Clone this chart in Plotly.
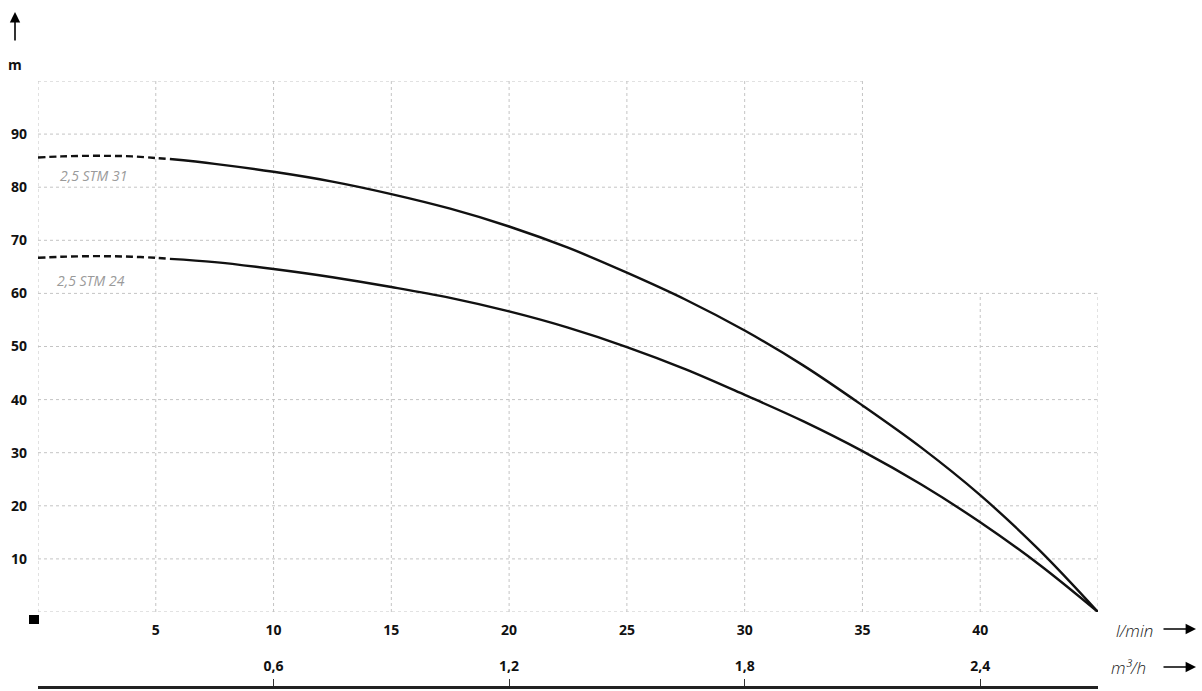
import plotly.graph_objects as go

# ---------------- data ----------------
x_dash = [0, 1, 2, 3, 4, 5, 5.6]
stm31_dash = [85.6, 85.8, 85.9, 85.9, 85.8, 85.5, 85.3]
stm24_dash = [66.7, 66.9, 67.0, 67.0, 66.9, 66.7, 66.5]

x_solid = [5.6, 7.5, 10, 12.5, 15, 17.5, 20, 22.5, 25, 27.5, 30, 32.5, 35, 37.5, 40, 42.5, 45]
stm31 = [85.3, 84.4, 82.9, 81.05, 78.7, 75.95, 72.6, 68.6, 63.9, 58.8, 53.0, 46.4, 38.9, 30.95, 22.0, 11.7, 0]
stm24 = [66.5, 65.9, 64.6, 63.05, 61.2, 59.15, 56.6, 53.55, 49.9, 45.7, 40.9, 35.9, 30.3, 24.0, 16.9, 8.95, 0]

series_names = ["2,5 STM 31", "2,5 STM 24"]

lmin_ticks = [5, 10, 15, 20, 25, 30, 35, 40]
lmin_labels = ["5", "10", "15", "20", "25", "30", "35", "40"]
m3h_ticks = [0.6, 1.2, 1.8, 2.4]
m3h_labels = ["0,6", "1,2", "1,8", "2,4"]
head_ticks = [10, 20, 30, 40, 50, 60, 70, 80, 90]
head_labels = ["10", "20", "30", "40", "50", "60", "70", "80", "90"]

X_MAX = 45
Y_MAX = 100
LMIN_TO_M3H = 0.06

# ---------------- figure ----------------
W, H = 1202, 691
ML, MR, MT, MB = 38, 104, 81, 4
PW = W - ML - MR
PH = H - MT - MB
y_plot_bottom_px = 612
y_dom0 = (H - MB - y_plot_bottom_px) / PH


def px_x(px):
    return (px - ML) / PW


def px_y(py):
    return (H - MB - py) / PH


FONT = "Open Sans"
fig = go.Figure()

line_style = dict(color="#111111", width=2.4)
for ys_d, ys_s, nm in [(stm31_dash, stm31, series_names[0]), (stm24_dash, stm24, series_names[1])]:
    fig.add_trace(go.Scatter(x=x_dash, y=ys_d, mode="lines", line=dict(**line_style, dash="7px,4px"),
                             line_shape="spline", showlegend=False, hoverinfo="skip", name=nm))
    fig.add_trace(go.Scatter(x=x_solid, y=ys_s, mode="lines", line=line_style,
                             line_shape="spline", showlegend=False, hoverinfo="skip", name=nm))

# dummy trace for the m3/h axis
fig.add_trace(go.Scatter(x=m3h_ticks, y=[None] * len(m3h_ticks), xaxis="x2", yaxis="y",
                         showlegend=False, hoverinfo="skip", mode="markers"))

# ---------------- L-shaped dotted grid ----------------
grid = dict(color="#c4c4c4", width=1, dash="3px,3px")
shapes = []
for yv in range(0, Y_MAX + 1, 10):
    x_end = 35 if yv > 60 else X_MAX
    shapes.append(dict(type="line", xref="x", yref="y", x0=0, x1=x_end, y0=yv, y1=yv, line=grid, layer="below"))
for xv in range(0, X_MAX + 1, 5):
    y_end = Y_MAX if xv <= 35 else 60
    shapes.append(dict(type="line", xref="x", yref="y", x0=xv, x1=xv, y0=0, y1=y_end, line=grid, layer="below"))

# small black square at origin
shapes.append(dict(type="rect", xref="paper", yref="paper",
                   x0=px_x(29), x1=px_x(39), y0=px_y(624), y1=px_y(615),
                   fillcolor="black", line=dict(width=0)))

annotations = []
# curve labels
annotations.append(dict(x=0.85, y=82.2, xref="x", yref="y", text="<i>" + series_names[0] + "</i>",
                        showarrow=False, xanchor="left", yanchor="middle",
                        font=dict(family=FONT, size=14, color="#9a9a9a")))
annotations.append(dict(x=0.72, y=62.5, xref="x", yref="y", text="<i>" + series_names[1] + "</i>",
                        showarrow=False, xanchor="left", yanchor="middle",
                        font=dict(family=FONT, size=14, color="#9a9a9a")))
# axis unit labels
annotations.append(dict(x=px_x(15), y=px_y(65), xref="paper", yref="paper", text="<b>m</b>",
                        showarrow=False, xanchor="center", yanchor="middle",
                        font=dict(family=FONT, size=14, color="#111")))
annotations.append(dict(x=px_x(1134), y=px_y(630), xref="paper", yref="paper", text="<i>l/min</i>",
                        showarrow=False, xanchor="center", yanchor="middle",
                        font=dict(family=FONT, size=17, color="#222", weight=300)))
annotations.append(dict(x=px_x(1128), y=px_y(667), xref="paper", yref="paper", text="<i>m³/h</i>",
                        showarrow=False, xanchor="center", yanchor="middle",
                        font=dict(family=FONT, size=17, color="#222", weight=300)))
# arrows
arrow = dict(showarrow=True, arrowhead=2, arrowsize=1.3, arrowwidth=1.6, arrowcolor="black",
             text="", xref="paper", yref="paper", axref="pixel", ayref="pixel")
annotations.append(dict(**arrow, x=px_x(15), y=px_y(12), ax=0, ay=30))
annotations.append(dict(**arrow, x=px_x(1196), y=px_y(629), ax=-34, ay=0))
annotations.append(dict(**arrow, x=px_x(1196), y=px_y(667), ax=-34, ay=0))

tickfont = dict(family=FONT, size=14, color="#111", weight="bold")

fig.update_layout(
    width=W, height=H,
    margin=dict(l=ML, r=MR, t=MT, b=MB, autoexpand=False),
    paper_bgcolor="white", plot_bgcolor="white",
    showlegend=False,
    xaxis=dict(range=[0, X_MAX], domain=[0, 1], anchor="y", showgrid=False, zeroline=False,
               showline=False, tickvals=lmin_ticks, ticktext=lmin_labels, ticks="",
               tickfont=tickfont, ticklabelstandoff=8),
    xaxis2=dict(range=[0, X_MAX * LMIN_TO_M3H], domain=[0, 1], overlaying="x", anchor="free",
                position=0, side="top", showgrid=False, zeroline=False,
                showline=True, linecolor="#222", linewidth=3,
                tickvals=m3h_ticks, ticktext=m3h_labels, ticks="outside", ticklen=7,
                tickwidth=1, tickcolor="#333", tickfont=tickfont, ticklabelstandoff=2),
    yaxis=dict(range=[0, Y_MAX], domain=[y_dom0, 1], showgrid=False, zeroline=False,
               showline=False, tickvals=head_ticks, ticktext=head_labels, ticks="",
               tickfont=tickfont, ticklabelstandoff=10),
    shapes=shapes,
    annotations=annotations,
)

fig.write_html("out.html", config={"displayModeBar": False},
               post_script="document.body.style.margin='0';document.body.style.padding='0';")
